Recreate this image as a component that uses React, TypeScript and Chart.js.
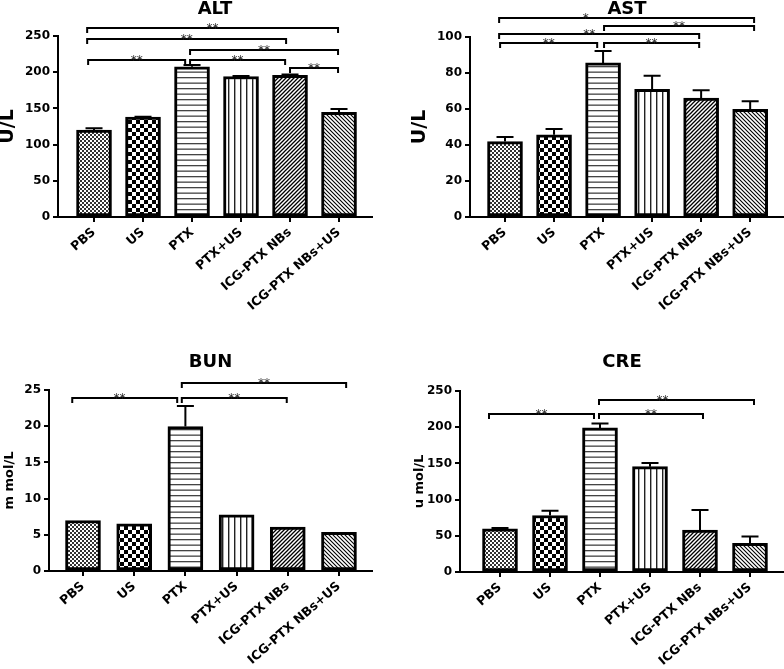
import React, { useEffect, useRef } from 'react';
import { Chart, registerables } from 'chart.js';
Chart.register(...registerables);

// ---------- data ----------
const categories = ['PBS', 'US', 'PTX', 'PTX+US', 'ICG-PTX NBs', 'ICG-PTX NBs+US'];

const altValues = [120, 138, 207.5, 194, 195.6, 144.5];
const altErrors = [2.5, 0.6, 2.5, 0.8, 1.2, 4.5];
const altTicks = [0, 50, 100, 150, 200, 250];

const astValues = [41.9, 45.7, 85.6, 70.9, 66.1, 59.8];
const astErrors = [2.6, 3.2, 6.6, 7.6, 4.3, 4.5];
const astTicks = [0, 20, 40, 60, 80, 100];

const bunValues = [6.95, 6.5, 19.95, 7.75, 6.05, 5.35];
const bunErrors = [0, 0, 2.85, 0, 0, 0];
const bunTicks = [0, 5, 10, 15, 20, 25];

const creValues = [59.5, 78, 199, 145.5, 58, 39.5];
const creErrors = [1.2, 6.5, 6.2, 5.2, 27.5, 9.5];
const creTicks = [0, 50, 100, 150, 200, 250];

// significance brackets: [from (category units), to, level (axis units), label, label position along bracket]
type Bracket = [number, number, number, string, number];
const altBrackets: Bracket[] = [
  [-0.12, 1.86, 217, '**', 0.5],
  [1.96, 3.9, 217, '**', 0.5],
  [4.0, 4.98, 206, '**', 0.5],
  [1.96, 4.98, 231, '**', 0.5],
  [-0.14, 3.92, 246, '**', 0.5],
  [-0.14, 4.98, 261, '**', 0.5],
];
const astBrackets: Bracket[] = [
  [-0.1, 1.88, 96.7, '**', 0.5],
  [2.02, 3.96, 96.7, '**', 0.5],
  [-0.12, 3.96, 101.7, '**', 0.45],
  [2.02, 5.08, 106, '**', 0.5],
  [-0.12, 5.08, 110.6, '*', 0.34],
];
const bunBrackets: Bracket[] = [
  [-0.21, 1.84, 23.9, '**', 0.45],
  [1.93, 3.98, 23.9, '**', 0.5],
  [1.93, 5.14, 26, '**', 0.5],
];
const creBrackets: Bracket[] = [
  [-0.22, 1.88, 218, '**', 0.5],
  [1.98, 4.06, 218, '**', 0.5],
  [1.98, 5.08, 237.6, '**', 0.41],
];

// ---------- layout ----------
type Panel = {
  title: string; yTitle: string; yTitleSize: number; yTitlePad: number;
  values: number[]; errors: number[]; ticks: number[]; brackets: Bracket[];
  left: number; top: number; width: number; height: number;
  axisX: number; padRight: number; xHeight: number;
  titlePadTop: number; titlePadBottom: number;
  xMin: number; xMax: number;
};

const panels: Panel[] = [
  {
    title: 'ALT', yTitle: 'U/L', yTitleSize: 19, yTitlePad: -1,
    values: altValues, errors: altErrors, ticks: altTicks, brackets: altBrackets,
    left: 0, top: 0, width: 392, height: 330,
    axisX: 58, padRight: 20, xHeight: 113, titlePadTop: 0, titlePadBottom: 18,
    xMin: -0.735, xMax: 5.673,
  },
  {
    title: 'AST', yTitle: 'U/L', yTitleSize: 19, yTitlePad: 18.5,
    values: astValues, errors: astErrors, ticks: astTicks, brackets: astBrackets,
    left: 392, top: 0, width: 392, height: 330,
    axisX: 78, padRight: 0, xHeight: 113, titlePadTop: 0, titlePadBottom: 19,
    xMin: -0.714, xMax: 5.69,
  },
  {
    title: 'BUN', yTitle: 'm mol/L', yTitleSize: 13, yTitlePad: 3.5,
    values: bunValues, errors: bunErrors, ticks: bunTicks, brackets: bunBrackets,
    left: 0, top: 330, width: 392, height: 339,
    axisX: 49, padRight: 20, xHeight: 98, titlePadTop: 23, titlePadBottom: 19,
    xMin: -0.664, xMax: 5.645,
  },
  {
    title: 'CRE', yTitle: 'u mol/L', yTitleSize: 13, yTitlePad: 21.5,
    values: creValues, errors: creErrors, ticks: creTicks, brackets: creBrackets,
    left: 392, top: 330, width: 392, height: 339,
    axisX: 68, padRight: 0, xHeight: 97, titlePadTop: 23, titlePadBottom: 20,
    xMin: -0.8, xMax: 5.68,
  },
];

// ---------- patterns ----------
function makePattern(ctxRef: CanvasRenderingContext2D, kind: string): CanvasPattern | string {
  const c = document.createElement('canvas');
  let w = 4, h = 4;
  if (kind === 'check') { w = 8; h = 8; }
  if (kind === 'hlines') { w = 4; h = 11; }
  if (kind === 'vlines') { w = 6; h = 4; }
  c.width = w; c.height = h;
  const g = c.getContext('2d')!;
  g.fillStyle = '#fff';
  g.fillRect(0, 0, w, h);
  g.fillStyle = '#000';
  g.strokeStyle = '#000';
  if (kind === 'fineCheck') {
    g.fillStyle = '#333';
    g.fillRect(0, 0, 2, 2);
    g.fillRect(2, 2, 2, 2);
  } else if (kind === 'check') {
    g.fillRect(0, 0, 4, 4);
    g.fillRect(4, 4, 4, 4);
  } else if (kind === 'hlines') {
    g.fillStyle = '#444';
    g.fillRect(0, 0, w, 1.3);
    g.fillRect(0, 5.5, w, 1.3);
  } else if (kind === 'vlines') {
    g.fillStyle = '#222';
    g.fillRect(0, 0, 1.4, h);
  } else if (kind === 'diagR') {
    g.lineWidth = 1.3;
    g.beginPath();
    g.moveTo(-1, 5); g.lineTo(5, -1);
    g.moveTo(-1, 1); g.lineTo(1, -1);
    g.moveTo(3, 5); g.lineTo(5, 3);
    g.stroke();
  } else if (kind === 'diagL') {
    g.lineWidth = 1.1;
    g.beginPath();
    g.moveTo(-1, -1); g.lineTo(5, 5);
    g.moveTo(3, -1); g.lineTo(5, 1);
    g.moveTo(-1, 3); g.lineTo(1, 5);
    g.stroke();
  }
  return ctxRef.createPattern(c, 'repeat') || '#888';
}

const patternKinds = ['fineCheck', 'check', 'hlines', 'vlines', 'diagR', 'diagL'];

function makeAnnot(p: Panel) {
  return {
    id: 'annot',
    afterDatasetsDraw(chart: any) {
      const { ctx } = chart;
      const xs = chart.scales.x;
      const ys = chart.scales.y;
      const meta = chart.getDatasetMeta(0);
      ctx.save();
      ctx.strokeStyle = '#000';
      ctx.lineWidth = 2;
      p.values.forEach((v, i) => {
        const e = p.errors[i];
        if (!e) return;
        const x = meta.data[i].x;
        const y0 = ys.getPixelForValue(v);
        const y1 = ys.getPixelForValue(v + e);
        ctx.beginPath();
        ctx.moveTo(x, y0);
        ctx.lineTo(x, y1);
        ctx.moveTo(x - 8.5, y1);
        ctx.lineTo(x + 8.5, y1);
        ctx.stroke();
      });
      ctx.font = '12px "DejaVu Sans"';
      ctx.textAlign = 'center';
      ctx.textBaseline = 'alphabetic';
      p.brackets.forEach(([a, b, lv, label, frac]) => {
        const x1 = xs.getPixelForValue(a);
        const x2 = xs.getPixelForValue(b);
        const y = Math.round(ys.getPixelForValue(lv));
        ctx.beginPath();
        ctx.moveTo(x1, y + 5);
        ctx.lineTo(x1, y);
        ctx.lineTo(x2, y);
        ctx.lineTo(x2, y + 5);
        ctx.stroke();
        ctx.fillStyle = '#222';
        ctx.fillText(label, x1 + (x2 - x1) * frac, y + 4);
      });
      ctx.restore();
    },
  };
}

function PanelChart({ p }: { p: Panel }) {
  const ref = useRef<HTMLCanvasElement>(null);
  useEffect(() => {
    const canvas = ref.current!;
    const c2d = canvas.getContext('2d')!;
    const pats = patternKinds.map((k) => makePattern(c2d, k));
    const gridOpts = {
      display: true, drawOnChartArea: false, drawTicks: true, offset: false,
      tickLength: 5, color: '#000', lineWidth: 2,
    };
    const chart = new Chart(canvas, {
      type: 'bar',
      data: {
        datasets: [{
          data: p.values.map((v, i) => ({ x: i, y: v })),
          backgroundColor: pats as any,
          borderColor: '#000',
          borderWidth: 3,
          borderSkipped: false,
          barThickness: 35,
        }],
      },
      options: {
        responsive: false,
        animation: false,
        layout: { padding: { left: 0, right: p.padRight, top: 0, bottom: 0 } },
        plugins: {
          legend: { display: false },
          tooltip: { enabled: false },
          title: {
            display: true, text: p.title, fullSize: false, color: '#000',
            font: { family: 'DejaVu Sans', size: 18, weight: 'bold', lineHeight: 1 },
            padding: { top: p.titlePadTop, bottom: p.titlePadBottom },
          },
        },
        scales: {
          x: {
            type: 'linear', min: p.xMin, max: p.xMax, offset: false,
            grid: gridOpts as any,
            border: { display: true, color: '#000', width: 2 },
            afterBuildTicks: (s: any) => { s.ticks = categories.map((_, i) => ({ value: i })); },
            afterFit: (s: any) => { s.height = p.xHeight; },
            ticks: {
              autoSkip: false, minRotation: 41, maxRotation: 41, padding: 3, color: '#000',
              font: { family: 'DejaVu Sans', size: 12.5, weight: 'bold' },
              callback: (v: any) => categories[v] ?? '',
            },
          },
          y: {
            type: 'linear', min: p.ticks[0], max: p.ticks[p.ticks.length - 1],
            grid: gridOpts as any,
            border: { display: true, color: '#000', width: 2 },
            afterBuildTicks: (s: any) => { s.ticks = p.ticks.map((v) => ({ value: v })); },
            afterFit: (s: any) => { s.width = p.axisX; },
            ticks: {
              padding: 3, color: '#000',
              font: { family: 'DejaVu Sans', size: 12, weight: 'bold' },
            },
            title: {
              display: true, text: p.yTitle, color: '#000',
              font: { family: 'DejaVu Sans', size: p.yTitleSize, weight: 'bold', lineHeight: 1 },
              padding: { top: p.yTitlePad, bottom: 0 },
            },
          },
        },
      },
      plugins: [makeAnnot(p)],
    } as any);
    return () => chart.destroy();
  }, [p]);
  return (
    <canvas
      ref={ref}
      width={p.width}
      height={p.height}
      style={{ position: 'absolute', left: p.left, top: p.top, width: p.width, height: p.height }}
    />
  );
}

export default function App() {
  return (
    <div style={{ position: 'absolute', left: 0, top: 0, width: 784, height: 669, background: '#fff' }}>
      {panels.map((p) => <PanelChart key={p.title} p={p} />)}
    </div>
  );
}
